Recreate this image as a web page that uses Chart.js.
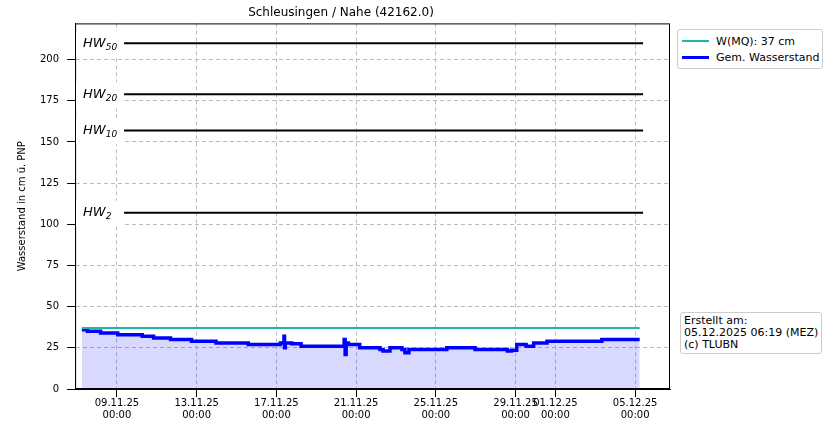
<!DOCTYPE html>
<html><head><meta charset="utf-8">
<script src="https://cdn.jsdelivr.net/npm/chart.js@4"></script>
<style>
body{margin:0;background:#fff;font-family:"DejaVu Sans",sans-serif;}
#wrap{position:relative;width:829px;height:426px;}
.box{position:absolute;background:#fff;border:1px solid #ccc;border-radius:3px;font-size:11px;color:#000;}
</style></head><body>
<div id="wrap"><canvas id="c" width="829" height="426"></canvas>
<div class="box" style="left:677px;top:29px;width:144px;padding:3px 0 3px 0;">
 <div style="display:flex;align-items:center;height:16px;"><span style="display:inline-block;width:27px;height:2px;background:#1fb5ad;margin:0 7px 0 4px"></span>W(MQ): 37 cm</div>
 <div style="display:flex;align-items:center;height:16px;"><span style="display:inline-block;width:27px;height:3px;background:#0000ff;margin:0 7px 0 4px"></span>Gem. Wasserstand</div>
</div>
<div class="box" style="left:680px;top:312px;padding:2px 3px;line-height:12px;">Erstellt am:<br>05.12.2025 06:19 (MEZ)<br>(c) TLUBN</div>
</div>
<script>
const tickDays=[0,4,8,12,16,20,22,26];
const tickLabels=[["09.11.25","00:00"],["13.11.25","00:00"],["17.11.25","00:00"],["21.11.25","00:00"],["25.11.25","00:00"],["29.11.25","00:00"],["01.12.25","00:00"],["05.12.25","00:00"]];
const levelDays=[-1.76,-1.48,-0.82,0.04,1.27,1.84,2.69,3.74,4.97,6.59,8.2,8.38,8.41,8.45,8.77,9.24,11.4,11.45,11.5,11.61,12.18,13.2,13.35,13.7,14.3,14.45,14.65,16.55,17.97,19.59,19.8,20.06,20.53,20.91,21.58,24.33,26.23];
const levelVals=[36,35,34,33,32,31,30,29,28,27,28,32,25,28,27.5,26,30,21,28,27,25,24,23,25,24,22,24,25,24,23,23.5,27,26,28,29,30,30];
const mqValue=37;const mqDays=[-1.76,26.23];
const hwNames=["50","20","10","2"];const hwVals=[210,179,157,107];const hwDays=[0.35,26.4];
const levelData=levelDays.map((d,i)=>({x:d,y:levelVals[i]}));
const datasets=[];
hwVals.forEach(v=>datasets.push({data:hwDays.map(d=>({x:d,y:v})),borderColor:'#000',borderWidth:2,pointRadius:0}));
datasets.push({data:mqDays.map(d=>({x:d,y:mqValue})),borderColor:'#1fb5ad',borderWidth:2,pointRadius:0});
datasets.push({data:levelData,borderColor:'#0000ff',borderWidth:3.5,pointRadius:0,stepped:'before',fill:'origin',backgroundColor:'rgba(0,0,255,0.15)'});
const hwPlugin={id:'hw',afterDatasetsDraw(ch){const c=ch.ctx,xs=ch.scales.x,ys=ch.scales.y,a=ch.chartArea;
 c.save();c.strokeStyle='#000';c.lineWidth=1;c.strokeRect(a.left+0.5,a.top+0.5,a.right-a.left-1,a.bottom-a.top-1);c.restore();
 hwVals.forEach((v,i)=>{const x=xs.getPixelForValue(-1.75),y=ys.getPixelForValue(v);
 c.save();c.fillStyle='#fff';c.fillRect(x-6,y-12,48,26);c.fillStyle='#000';c.font='italic 13px "DejaVu Sans"';c.textBaseline='middle';c.fillText('HW',x+1,y);const w=c.measureText('HW').width;c.font='italic 9px "DejaVu Sans"';c.fillText(hwNames[i],x+1+w,y+4);c.restore();});}};
new Chart(document.getElementById('c'),{type:'line',data:{datasets},plugins:[hwPlugin],
options:{responsive:false,animation:false,layout:{padding:{right:159,top:0,left:12,bottom:4}},
plugins:{legend:{display:false},tooltip:{enabled:false},title:{display:true,text:'Schleusingen / Nahe (42162.0)',color:'#000',font:{family:'DejaVu Sans',size:12,weight:'normal'},padding:{top:6,bottom:3}}},
scales:{x:{type:'linear',min:-2.1,max:27.75,afterBuildTicks(a){a.ticks=tickDays.map(v=>({value:v}));},
 ticks:{autoSkip:false,maxRotation:0,color:'#000',padding:1,font:{family:'DejaVu Sans',size:10,lineHeight:1.15},callback:(v)=>tickLabels[tickDays.indexOf(v)]},
 grid:{color:'#bbb',tickColor:'#000',drawTicks:true},border:{color:'#000',dash:[4,3]}},
 y:{min:0,max:222,afterBuildTicks(a){a.ticks=[0,25,50,75,100,125,150,175,200].map(v=>({value:v}));},
 ticks:{color:'#000',padding:8,font:{family:'DejaVu Sans',size:10}},
 title:{display:true,text:'Wasserstand in cm ü. PNP',color:'#000',font:{family:'DejaVu Sans',size:10}},
 grid:{color:'#bbb',tickColor:'#000'},border:{color:'#000',dash:[4,3]}}}}});
</script></body></html>
